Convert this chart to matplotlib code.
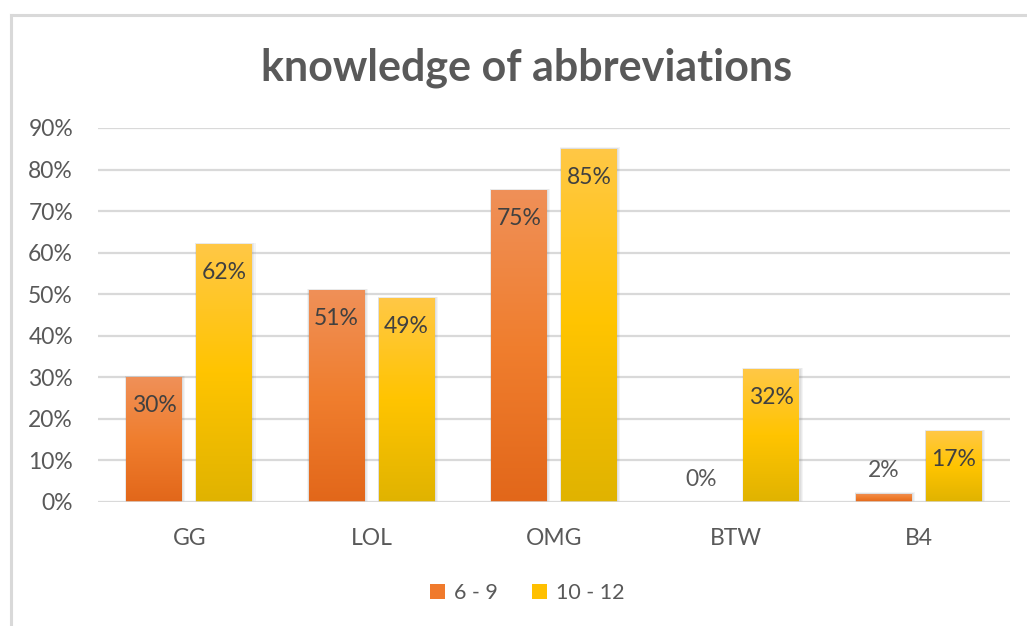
import matplotlib
matplotlib.use("Agg")
import matplotlib.pyplot as plt
import numpy as np
from matplotlib.colors import LinearSegmentedColormap
from matplotlib.patches import Rectangle
from matplotlib.lines import Line2D

plt.rcParams['font.family'] = ['Lato', 'DejaVu Sans']

title = "knowledge of abbreviations"
categories = ["GG", "LOL", "OMG", "BTW", "B4"]
series_names = ["6 - 9", "10 - 12"]
values_6_9 = [0.30, 0.51, 0.75, 0.00, 0.02]
values_10_12 = [0.62, 0.49, 0.85, 0.32, 0.17]
yticks = [0, 0.1, 0.2, 0.3, 0.4, 0.5, 0.6, 0.7, 0.8, 0.9]

grad_orange = ["#E2671A", "#F07E2E", "#EF9058"]   # bottom -> top
grad_yellow = ["#E0B300", "#FFC400", "#FFC846"]
legend_colors = ["#F07A2C", "#FFC000"]

W, H = 1027, 626
fig = plt.figure(figsize=(W / 100, H / 100), dpi=100)
fig.patch.set_facecolor("white")

# chart border (only top and left visible)
fig.add_artist(Line2D([11 / W, 11 / W], [0, 1 - 15 / H], transform=fig.transFigure,
                      color="#D9D9D9", lw=2.2))
fig.add_artist(Line2D([11 / W, 1], [1 - 15 / H, 1 - 15 / H], transform=fig.transFigure,
                      color="#D9D9D9", lw=2.2))

ax = fig.add_axes([98 / W, 1 - 502 / H, (1010 - 98) / W, (502 - 128) / H])
ax.set_xlim(-0.5, len(categories) - 0.5)
ax.set_ylim(0, 0.9)
for s in ax.spines.values():
    s.set_visible(False)
ax.set_yticks(yticks)
ax.set_yticklabels([f"{int(round(t * 100))}%" for t in yticks])
ax.set_xticks(range(len(categories)))
ax.set_xticklabels(categories)
ax.tick_params(axis="both", length=0, labelsize=16.5, labelcolor="#595959")
ax.tick_params(axis="y", pad=18)
ax.tick_params(axis="x", pad=19)
ax.grid(axis="y", color="#D9D9D9", lw=1.6)
ax.set_axisbelow(True)

x = np.arange(len(categories))
bw = 0.307
off = 0.192

grad = np.linspace(0, 1, 256).reshape(-1, 1)
for vals, cols, sgn in [(values_6_9, grad_orange, -1), (values_10_12, grad_yellow, 1)]:
    cmap = LinearSegmentedColormap.from_list("g", cols)
    bars = ax.bar(x + sgn * off, vals, width=bw, color="none", edgecolor="none", zorder=3)
    for b, v in zip(bars, vals):
        bx, by = b.get_x(), b.get_y()
        bh = b.get_height()
        if bh <= 0:
            continue
        # soft shadow
        for k, a in [(0.012, 0.08), (0.008, 0.09), (0.004, 0.10)]:
            ax.add_patch(Rectangle((bx - k * 0.5, by), bw + 2 * k, bh + k * 0.3,
                                   facecolor="#7F7F7F", alpha=a, edgecolor="none", zorder=2.5))
        im = ax.imshow(grad, extent=[bx, bx + bw, 0, bh], origin="lower", cmap=cmap,
                       aspect="auto", zorder=3, interpolation="bilinear")
        im.set_clip_path(b)
    for xi, v in zip(x + sgn * off, vals):
        lbl = f"{int(round(v * 100))}%"
        if v >= 0.1:
            ax.text(xi, v - 0.068, lbl, ha="center", va="center", fontsize=16.5,
                    color="#404040", zorder=5)
        else:
            ax.text(xi, v + 0.055, lbl, ha="center", va="center", fontsize=16.5,
                    color="#595959", zorder=5)

ax.set_xlim(-0.5, len(categories) - 0.5)
ax.set_ylim(0, 0.9)
ax.axhline(0, color="#D9D9D9", lw=1.8, zorder=4)

fig.text(527 / W, 1 - 68 / H, title, ha="center", va="center", fontsize=31,
         fontweight="bold", color="#595959")

handles = [Rectangle((0, 0), 1, 1, facecolor=c, edgecolor="none") for c in legend_colors]
fig.legend(handles, series_names, loc="center", bbox_to_anchor=(527 / W, 1 - 593 / H),
           ncol=2, frameon=False, fontsize=15.5, labelcolor="#595959",
           handlelength=0.7, handleheight=0.7, handletextpad=0.4, columnspacing=1.6)

fig.savefig("out.png", dpi=100, facecolor="white")
